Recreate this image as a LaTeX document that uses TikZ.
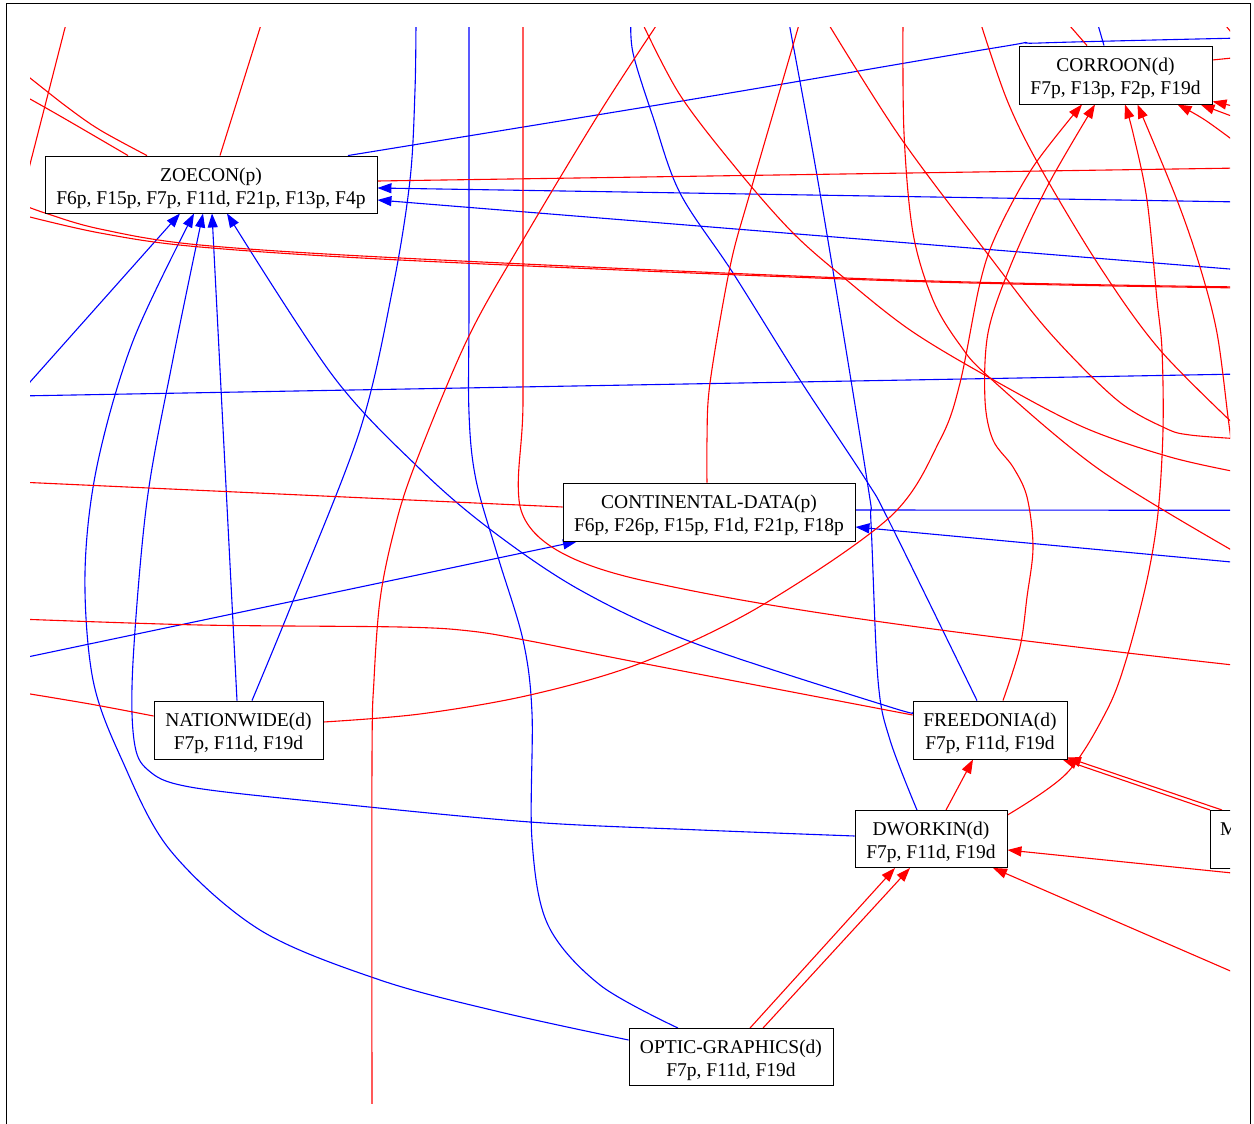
\documentclass[tikz,border=0pt]{standalone}
\usepackage{fontspec}
\setmainfont{Liberation Serif}
\usetikzlibrary{arrows.meta,backgrounds}
\newcommand{\twolines}[2]{\raisebox{-3.5pt}[\height][\depth]{\begin{tabular}{@{}c@{}}#1\\#2\end{tabular}}}
\tikzset{
  box/.style={draw, line width=0.9pt, fill=white, inner sep=0pt, font=\fontsize{19.5}{23}\selectfont},
  be/.style={draw=blue, line width=1.1pt},
  re/.style={draw=red, line width=1.1pt},
  tip/.style={-{Triangle[length=14pt,width=10pt]}},
  sm/.style={smooth, tension=0.55}
}
\begin{document}
\begin{tikzpicture}[x=1pt,y=-1pt]
\useasboundingbox (0,0) rectangle (1254,1124);
\draw[line width=1pt] (6.5,1130) -- (6.5,3.5) -- (1250,3.5) -- (1250,1130);

% nodes
\node[box, minimum width=332pt, minimum height=57pt] (zoe) at (211,184.5) {\twolines{ZOECON(p)}{F6p, F15p, F7p, F11d, F21p, F13p, F4p}};
\node[box, minimum width=193pt, minimum height=58pt] (cor) at (1115.5,75) {\twolines{CORROON(d)}{F7p, F13p, F2p, F19d}};
\node[box, minimum width=292pt, minimum height=58pt] (cd) at (709,512) {\twolines{CONTINENTAL-DATA(p)}{F6p, F26p, F15p, F1d, F21p, F18p}};
\node[box, minimum width=169pt, minimum height=58pt] (nat) at (238.5,730) {\twolines{NATIONWIDE(d)}{F7p, F11d, F19d}};
\node[box, minimum width=154pt, minimum height=58pt] (fre) at (990,730) {\twolines{FREEDONIA(d)}{F7p, F11d, F19d}};
\node[box, minimum width=152pt, minimum height=57pt] (dwo) at (931,839) {\twolines{DWORKIN(d)}{F7p, F11d, F19d}};
\node[box, minimum width=204pt, minimum height=57pt] (opt) at (731,1057) {\twolines{OPTIC-GRAPHICS(d)}{F7p, F11d, F19d}};
\begin{scope}
  \clip (30,28) rectangle (1230,1103);
  \node[box, minimum width=170pt, minimum height=58pt, anchor=north west] (m) at (1210,810) {};
  \node[font=\fontsize{19.5}{23}\selectfont, anchor=west, inner sep=0pt] (mtext) at (1220,829) {M};
\end{scope}

\begin{scope}[on background layer]
\clip (30,28) rectangle (1230,1103);
% ---------------- blue edges
\draw[be,tip] (18,395.5) -- ([xshift=-31pt]zoe.south);
\draw[be,tip] plot[sm] coordinates {([yshift=17pt]opt.west) (500,1012) (380,980) (260,930) (170,850) (122,760) (93,680) (85,573) (97,466) (133,341) ([xshift=-17pt]zoe.south)};
\draw[be,tip] plot[sm] coordinates {([yshift=3pt]dwo.west) (700,830) (530,822) (330,803) (190,787) (148,770) (134,740) (133,662) (147,501) (173,359) ([xshift=-8pt]zoe.south)};
\draw[be,tip] ([xshift=-1.5pt]nat.north) -- ([xshift=1pt]zoe.south);
\draw[be,tip] plot[sm] coordinates {([yshift=18pt]fre.west) (890,707) (694,643) (580,590) (491,530) (420,469) (333,376) ([xshift=16pt]zoe.south)};
\draw[be,tip] (1242,202) -- ([yshift=-3.5pt]zoe.east);
\draw[be,tip] (1242,270) -- ([yshift=-15.5pt]zoe.east);
\draw[be] plot[sm] coordinates {([xshift=137pt]zoe.north) (700,98) (1000,47) (1040,43) (1242,38)};
\draw[be] (18,396) -- (1242,374);
\draw[be] plot[sm] coordinates {([xshift=13.5pt]nat.north) (293,601) (360,430) (393,287) (410,180) (415,90) (416,18)};
\draw[be] plot[sm] coordinates {([xshift=-53pt]opt.north) (600,985) (548,925) (532,840) (532,713) (523,640) (498,557) (476,480) (469,413) (469,300) (469,18)};
\draw[be] plot[sm] coordinates {([xshift=-13pt]fre.north) (890,523) (866,480) (800,380) (733,273) (680,193) (653,117) (633,53) (631,18)};
\draw[be] plot[sm] coordinates {([xshift=-14pt]dwo.north) (890,740) (878,680) (871,523) (867,480) (820,193) (790,28) (788,18)};
\draw[be] ([yshift=2pt]cd.east) -- (1242,510.3);
\draw[be,tip] (1242,563) -- ([yshift=-15pt]cd.east);
\draw[be,tip] (18,659) -- ([xshift=-132pt]cd.south);
\draw[be] (1096,18) -- ([xshift=-11.5pt]cor.north);
% ---------------- red edges
\draw[re] (67,20) -- (27,176);
\draw[re] ([xshift=9pt]zoe.north) -- (262.5,20);
\draw[re] plot[sm] coordinates {([xshift=-64pt]zoe.north) (100,130) (67,107) (30,78) (20,71)};
\draw[re] plot[sm] coordinates {([xshift=-83pt]zoe.north) (67,120) (30,99) (20,94)};
\draw[re] plot[sm] coordinates {(18,203) (45,213) (100,229) (200,245) (420,259) (900,280) (1242,287)};
\draw[re] plot[sm] coordinates {(18,214) (100,233) (200,247) (420,261) (900,281) (1242,288)};
\draw[re] ([yshift=3.5pt]zoe.east) -- (1242,168);
\draw[re] plot[sm] coordinates {(372,1110) (372,760) (374,680) (380,600) (393,535) (413,470) (467,340) (523,240) (600,112) (660,20)};
\draw[re] (523,18) -- (523,400) .. controls (523,445) and (516,470) .. (519,500)
          .. controls (523,540) and (570,565) .. (650,582)
          .. controls (760,606) and (900,628) .. (1242,666);
\draw[re] ([yshift=5pt]cd.west) -- (18,482);
\draw[re] plot[sm] coordinates {([yshift=15pt]fre.west) (641,663) (530,641) (470,631) (400,627) (200,625) (18,619)};
\draw[re] plot[sm] coordinates {([yshift=14pt]nat.west) (90,704) (18,692)};
\draw[re,tip] plot[sm] coordinates {([yshift=8pt]nat.east) (420,714) (530,695) (641,663) (759,607) (890,517) (940,440) (960,383) (980,283) (997,233) (1033,167) ([xshift=-33.5pt]cor.south)};
\draw[re,tip] plot[sm] coordinates {([xshift=13pt]fre.north) (1020,647) (1027,597) (1033,547) (1027,497) (1013,467) (993,440) (985,400) (988,333) (1010,267) (1047,187) ([xshift=-20.5pt]cor.south)};
\draw[re,tip] plot[sm] coordinates {([yshift=24pt]dwo.east) (1067,773) (1107,710) (1127,657) (1147,580) (1158,513) (1163,430) (1162,350) (1157,300) (1147,200) (1133,133) ([xshift=9.5pt]cor.south)};
\draw[re,tip] plot[sm] coordinates {(1231,440) (1228,417) (1217,333) (1200,267) (1177,200) ([xshift=22pt]cor.south)};
\draw[re,tip] plot[sm] coordinates {(1242,147) (1205,120) ([xshift=62pt]cor.south)};
\draw[re,tip] (1242,120) -- ([xshift=85pt]cor.south);
\draw[re,tip] (1242,108) -- ([xshift=97pt,yshift=3pt]cor.south);
\draw[re] ([yshift=15pt]cor.east) -- (1242,57);
\draw[re] (1063,18) -- ([xshift=-28.5pt]cor.north);
\draw[re] plot[sm] coordinates {([xshift=-2pt]cd.north) (707,440) (710,383) (730,267) (750,193) (798,28) (800,18)};
\draw[re] plot[sm] coordinates {(640,18) (680,95) (740,173) (793,233) (843,277) (910,330) (990,378) (1083,427) (1170,457) (1242,473)};
\draw[re] plot[sm] coordinates {(826,20) (900,137) (990,257) (1050,333) (1117,400) (1165,428) (1190,435) (1242,439)};
\draw[re] plot[sm] coordinates {(903,18) (904,133) (913,233) (933,300) (960,345) (990,378) (1100,470) (1242,556)};
\draw[re] plot[sm] coordinates {(979,18) (1007,100) (1040,167) (1100,267) (1160,350) (1242,432)};
\draw[re,tip] ([xshift=19pt]opt.north) -- ([xshift=-36pt]dwo.south);
\draw[re,tip] ([xshift=32pt]opt.north) -- ([xshift=-21pt]dwo.south);
\draw[re,tip] ([xshift=15pt]dwo.north) -- ([xshift=-17pt]fre.south);
\draw[re,tip] ([xshift=12pt]m.north west) -- ([xshift=-0.5pt,yshift=2pt]fre.south east);
\draw[re,tip] (m.north west) -- ([xshift=-5pt]fre.south east);
\draw[re,tip] (1242,874) -- ([yshift=-11pt]dwo.east);
\draw[re,tip] (1242,976) -- ([xshift=62pt]dwo.south);
\draw[re] (1226,26) -- (1236,38);
\end{scope}
\end{tikzpicture}
\end{document}
